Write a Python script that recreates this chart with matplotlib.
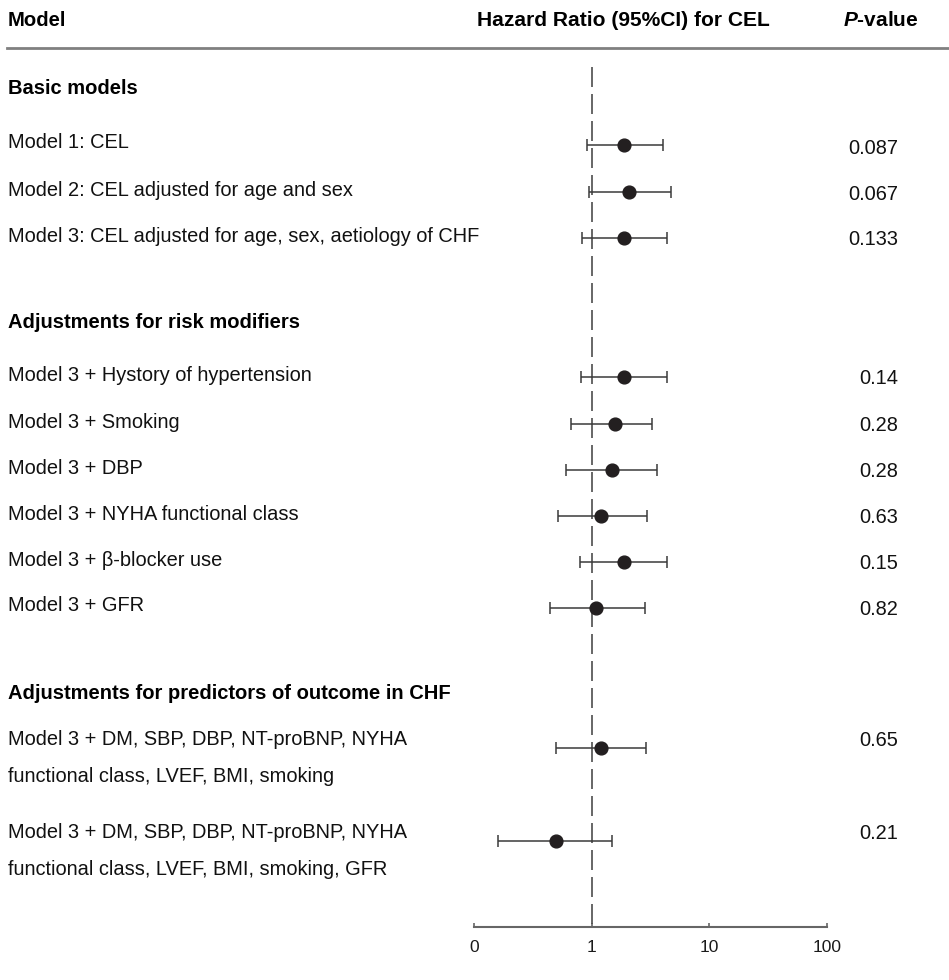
"""Forest plot: hazard ratios of CEL across adjusted Cox models."""

import matplotlib
matplotlib.use("Agg")
import matplotlib.pyplot as plt
import matplotlib.transforms as mtransforms
import numpy as np

plt.rcParams["font.family"] = ["Liberation Sans", "DejaVu Sans"]
plt.rcParams["mathtext.fontset"] = "custom"
plt.rcParams["mathtext.bfit"] = "Liberation Sans:italic:bold"

# ---- data ----
labels = [
    "Model 1: CEL",
    "Model 2: CEL adjusted for age and sex",
    "Model 3: CEL adjusted for age, sex, aetiology of CHF",
    "Model 3 + Hystory of hypertension",
    "Model 3 + Smoking",
    "Model 3 + DBP",
    "Model 3 + NYHA functional class",
    "Model 3 + \u03b2-blocker use",
    "Model 3 + GFR",
    "Model 3 + DM, SBP, DBP, NT-proBNP, NYHA\nfunctional class, LVEF, BMI, smoking",
    "Model 3 + DM, SBP, DBP, NT-proBNP, NYHA\nfunctional class, LVEF, BMI, smoking, GFR",
]
hr = np.array([1.89, 2.09, 1.89, 1.89, 1.59, 1.49, 1.19, 1.89, 1.09, 1.19, 0.50])
ci_low = np.array([0.91, 0.95, 0.82, 0.81, 0.67, 0.60, 0.52, 0.80, 0.44, 0.50, 0.16])
ci_high = np.array([4.07, 4.76, 4.37, 4.37, 3.28, 3.59, 2.96, 4.37, 2.84, 2.88, 1.48])
p_values = ["0.087", "0.067", "0.133", "0.14", "0.28", "0.28", "0.63", "0.15", "0.82",
            "0.65", "0.21"]
sections = ["Basic models", "Adjustments for risk modifiers",
            "Adjustments for predictors of outcome in CHF"]
tick_vals = [0.1, 1, 10, 100]
tick_labels = ["0", "1", "10", "100"]

# ---- layout (pixel rows, top-down) ----
W, H = 949, 980
row_y = [145, 192, 238, 377, 424, 470, 516, 562, 608, 748, 841]
label_dy = [-2, -2, -2, -2, -2, -2, -2, -2, -3, 10, 10]
pval_dy = [3, 2, 1, 1, 1, 1, 1, 1, 1, -8, -8]
section_y = [89, 322, 693]
axis_y = 927

fig = plt.figure(figsize=(W / 100, H / 100), dpi=100)
ax = fig.add_axes([474 / W, 0, (827 - 474) / W, 1])
ax.set_xscale("log")
ax.set_xlim(0.1, 100)
ax.set_ylim(H, 0)

ax.vlines(1, 67, axis_y, colors="#4d4d4d", linestyles=(0, (12, 4.2)), linewidth=1.2)

ax.errorbar(hr, row_y, xerr=[hr - ci_low, ci_high - hr], fmt="o",
            color="#231f20", ecolor="#3a3a3a", elinewidth=1.1, capsize=4.5,
            capthick=1.1, markersize=9.2, zorder=3)

for s in ["top", "left", "right"]:
    ax.spines[s].set_visible(False)
ax.spines["bottom"].set_position(("data", axis_y))
ax.spines["bottom"].set_color("#666666")
ax.spines["bottom"].set_linewidth(1.5)
ax.set_xticks(tick_vals)
ax.set_xticklabels(tick_labels)
ax.xaxis.set_minor_locator(matplotlib.ticker.NullLocator())
ax.tick_params(axis="x", direction="in", length=3, width=1.2, color="#666666",
               pad=9, labelsize=12.5, labelcolor="#1a1a1a")
ax.set_yticks([])
ax.patch.set_visible(False)

trans = mtransforms.blended_transform_factory(fig.transFigure, ax.transData)
fs = 14.4
fs_bold = 15.0

# header
ax.text(8 / W, 20, "Model", transform=trans, fontsize=fs_bold - 0.4, fontweight="bold",
        va="center", ha="left")
ax.text(477 / W, 20, "Hazard Ratio (95%CI) for CEL", transform=trans,
        fontsize=fs_bold + 0.1, fontweight="bold", va="center", ha="left")
ax.text(919 / W, 20, r"$\bfit{P}$-value", transform=trans, fontsize=fs_bold,
        fontweight="bold", va="center", ha="right")
fig.add_artist(plt.Line2D([7 / W, 1], [1 - 48 / H, 1 - 48 / H], color="#808080",
                          linewidth=2))

for name, y in zip(sections, section_y):
    ax.text(8 / W, y, name, transform=trans, fontsize=14.5,
            fontweight="bold", va="center", ha="left")

for lab, y, dy in zip(labels, row_y, label_dy):
    ax.text(8 / W, y + dy, lab, transform=trans, fontsize=fs, va="center",
            ha="left", linespacing=2.15, color="#111111")

for p, y, dy in zip(p_values, row_y, pval_dy):
    ax.text(898 / W, y + dy, p, transform=trans, fontsize=fs, va="center",
            ha="right", color="#111111")

fig.savefig("out.png", dpi=100)
